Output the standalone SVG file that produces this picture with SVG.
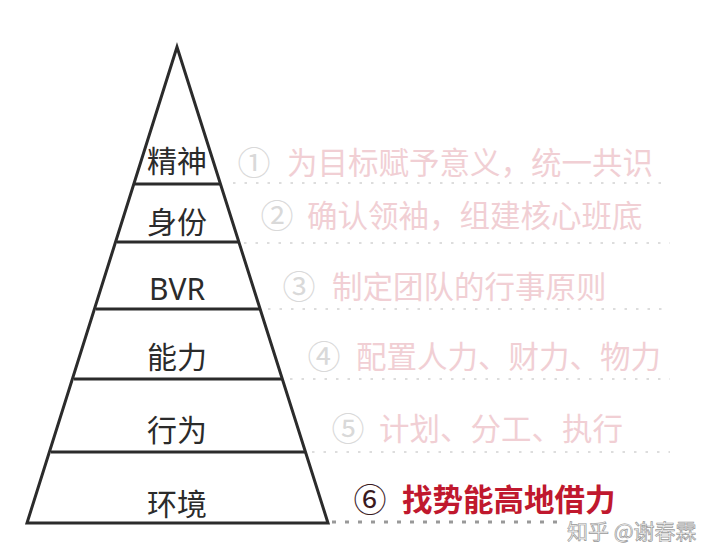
<svg xmlns="http://www.w3.org/2000/svg" width="720" height="553" viewBox="0 0 720 553">
<style>
.lbl{font-family:"Noto Sans CJK SC","Noto Sans",sans-serif;font-size:30px;fill:#2b2b2b;text-anchor:middle;dominant-baseline:central}
.lat{font-family:"Noto Sans","Noto Sans CJK SC",sans-serif}
.desc{font-family:"Noto Sans CJK SC",sans-serif;font-size:30.5px;fill:#f1cfd4;dominant-baseline:central}
.num{font-family:"Noto Sans CJK SC",sans-serif;font-size:33px;fill:#d9d9d9;text-anchor:middle;dominant-baseline:central}
.edge{stroke:#2b2b2b;stroke-width:3;fill:none}
.dot{stroke:#dddddd;stroke-width:2;stroke-dasharray:2.5 9}
.dot6{stroke:#999999;stroke-width:3;stroke-dasharray:4 9}
</style>
<rect width="720" height="553" fill="#ffffff"/>
<g id="connectors">
<line class="dot" x1="233" y1="183" x2="670" y2="183"/>
<line class="dot" x1="244" y1="243" x2="670" y2="243"/>
<line class="dot" x1="268" y1="309" x2="670" y2="309"/>
<line class="dot" x1="290" y1="379" x2="670" y2="379"/>
<line class="dot" x1="312" y1="452" x2="670" y2="452"/>
<line class="dot6" x1="332" y1="522" x2="565" y2="522"/>
</g>
<g id="pyramid">
<polygon class="edge" points="177,47 27,523 328,523" stroke-linejoin="miter"/>
<line class="edge" x1="135" y1="184" x2="220" y2="184"/>
<line class="edge" x1="117" y1="242" x2="238" y2="242"/>
<line class="edge" x1="96" y1="309" x2="260" y2="309"/>
<line class="edge" x1="74" y1="379" x2="282" y2="379"/>
<line class="edge" x1="51" y1="452" x2="305" y2="452"/>
</g>
<g id="level1"><text class="lbl" x="177" y="159">精神</text><text class="num" x="254" y="161">①</text><text class="desc" x="287" y="161">为目标赋予意义，统一共识</text></g>
<g id="level2"><text class="lbl" x="177" y="220">身份</text><text class="num" x="277" y="214">②</text><text class="desc" x="307" y="214">确认领袖，组建核心班底</text></g>
<g id="level3"><text class="lbl lat" x="177" y="288">BVR</text><text class="num" x="299" y="285">③</text><text class="desc" x="332" y="285">制定团队的行事原则</text></g>
<g id="level4"><text class="lbl" x="177" y="355">能力</text><text class="num" x="324" y="355">④</text><text class="desc" x="356" y="355">配置人力、财力、物力</text></g>
<g id="level5"><text class="lbl" x="177" y="428">行为</text><text class="num" x="348" y="427">⑤</text><text class="desc" x="379" y="427">计划、分工、执行</text></g>
<g id="level6"><text class="lbl" x="177" y="502">环境</text><text class="num" x="370" y="498" style="fill:#3a1a1e">⑥</text><text class="desc" x="402" y="498" style="fill:#c0182e;font-weight:bold">找势能高地借力</text></g>
<g id="watermark"><text x="567" y="530" style="font-family:'Noto Sans CJK SC',sans-serif;font-size:21px;fill:#f4f4f4;stroke:#9a9a9a;stroke-width:0.7;dominant-baseline:central">知乎 @谢春霖</text></g>
</svg>
